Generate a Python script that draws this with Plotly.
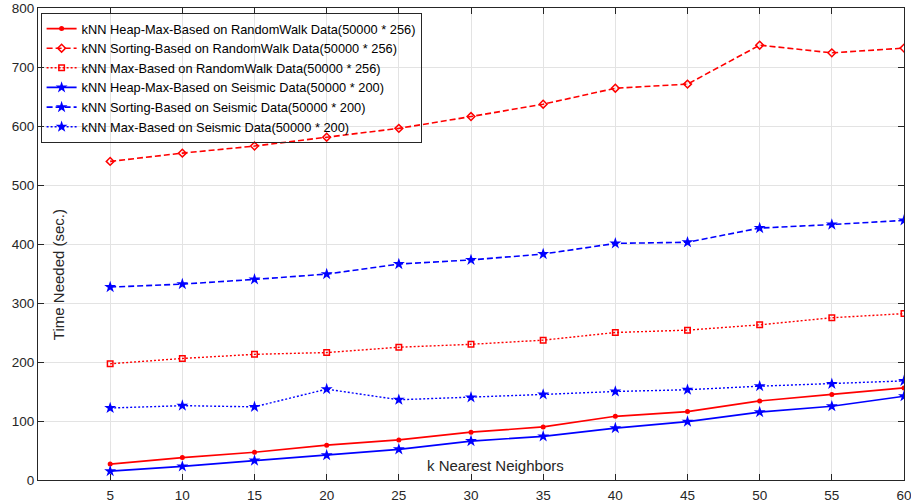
import plotly.graph_objects as go

k_values = [5, 10, 15, 20, 25, 30, 35, 40, 45, 50, 55, 60]

heap_rw = [27, 38, 47, 59, 68, 81, 90, 108, 116, 134, 145, 156]
sort_rw = [540, 554, 566, 581, 596, 616, 637, 664, 671, 737, 724, 732]
max_rw = [197, 206, 213, 216, 225, 230, 237, 250, 254, 263, 275, 282]
heap_se = [15, 23, 33, 42, 52, 66, 74, 88, 99, 115, 125, 142]
sort_se = [327, 332, 340, 349, 366, 373, 383, 401, 403, 427, 433, 440]
max_se = [122, 126, 124, 154, 136, 140, 145, 150, 153, 159, 163, 168]

names = [
    "kNN Heap-Max-Based on RandomWalk Data(50000 * 256)",
    "kNN Sorting-Based on RandomWalk Data(50000 * 256)",
    "kNN Max-Based on RandomWalk Data(50000 * 256)",
    "kNN Heap-Max-Based on Seismic Data(50000 * 200)",
    "kNN Sorting-Based on Seismic Data(50000 * 200)",
    "kNN Max-Based on Seismic Data(50000 * 200)",
]

y_ticks = [0, 100, 200, 300, 400, 500, 600, 700, 800]

RED = "#ff0000"
BLUE = "#0000ff"
TXT = "#262626"

styles = [
    (heap_rw, RED, "solid", 1.7, "circle", 5),
    (sort_rw, RED, "6px,3px", 1.6, "diamond-open", 6),
    (max_rw, RED, "2px,2px", 1.4, "square-open", 5.5),
    (heap_se, BLUE, "solid", 1.7, "star", 9),
    (sort_se, BLUE, "6px,3px", 1.6, "star", 9),
    (max_se, BLUE, "2px,2px", 1.4, "star", 9),
]

fig = go.Figure()
for name, (vals, color, dash, lw, sym, msize) in zip(names, styles):
    fig.add_trace(go.Scatter(
        x=k_values, y=vals, name=name, mode="lines+markers",
        line=dict(color=color, width=lw, dash=dash),
        marker=dict(symbol=sym, size=msize, color=color,
                    line=dict(color=color, width=1.5 if "open" in sym else 0)),
    ))

axis_common = dict(
    showline=True, linecolor=TXT, linewidth=1, mirror="ticks",
    ticks="inside", ticklen=6, tickcolor=TXT, tickwidth=1,
    showgrid=True, gridcolor="#e3e3e3", gridwidth=1, automargin=False,
    zeroline=False, ticklabeloverflow="allow",
    tickfont=dict(family="Liberation Sans, Arial", size=13.5, color=TXT),
)

fig.update_xaxes(range=[0, 60], tickvals=k_values, ticktext=[str(v) for v in k_values],
                 ticklabelstandoff=3, **axis_common)
fig.update_yaxes(range=[0, 800], tickvals=y_ticks, **axis_common)

fig.add_annotation(text="k Nearest Neighbors", xref="paper", yref="paper",
                   x=0.528, y=0.03, xanchor="center", yanchor="middle", showarrow=False,
                   font=dict(family="Liberation Sans, Arial", size=15, color=TXT))
fig.add_annotation(text="Time Needed (sec.)", xref="paper", yref="paper",
                   x=0.023, y=0.436, xanchor="center", yanchor="middle", showarrow=False,
                   textangle=-90,
                   font=dict(family="Liberation Sans, Arial", size=15, color=TXT))

fig.update_layout(
    width=911, height=504,
    margin=dict(l=38, r=7, t=8, b=24),
    plot_bgcolor="white", paper_bgcolor="white",
    font=dict(family="Liberation Sans, Arial", color=TXT),
    legend=dict(
        x=0.003, y=0.99, xanchor="left", yanchor="top",
        bgcolor="rgba(255,255,255,0)", bordercolor=TXT, borderwidth=1,
        font=dict(family="Liberation Sans, Arial", size=12.8, color="#000000"),
        itemwidth=30, tracegroupgap=0,
    ),
)

fig.write_html(
    "out.html",
    config={"displayModeBar": False},
    post_script="document.body.style.margin='0';document.body.style.overflow='hidden';",
)
